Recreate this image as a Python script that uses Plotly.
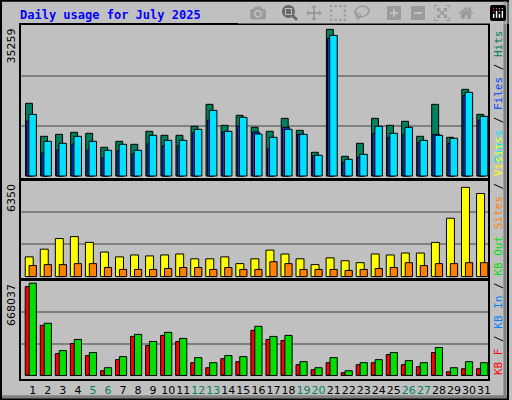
import plotly.graph_objects as go

days = list(range(1, 32))
weekend = [5, 6, 12, 13, 19, 20, 26, 27]

hits = [17090, 9330, 9800, 10270, 10040, 6750, 8160, 7450, 10510, 9570, 9570, 11680, 16850, 11920, 14270,
        11450, 10510, 13560, 10740, 5570, 34480, 4630, 7690, 13560, 11920, 12860, 9330, 16850, 9100, 20380, 14500]
files = [12930, 5410, 6110, 7520, 6110, 4230, 5880, 5170, 7520, 7050, 7050, 10110, 13160, 10340, 11750,
         10340, 6350, 11450, 9800, 4770, 32370, 3220, 4400, 10040, 9100, 9800, 7920, 9800, 7690, 18970, 13090]
pages = [14500, 8160, 7690, 9330, 8160, 6040, 7450, 6040, 9570, 8390, 8390, 10980, 15440, 10510, 13800,
         9870, 9100, 10980, 9800, 4870, 33070, 3930, 5100, 11680, 10040, 11450, 8390, 9570, 8860, 19670, 14030]
visits = [1295, 1803, 2502, 2629, 2248, 1613, 1295, 1422, 1359, 1422, 1486, 1168, 1168, 1295, 851,
          1168, 1740, 1486, 1168, 787, 1232, 1041, 914, 1486, 1422, 1549, 1549, 2248, 3835, 5867, 5461]
sites = [724, 787, 787, 851, 851, 597, 470, 470, 470, 533, 597, 597, 470, 597, 470,
         470, 978, 851, 470, 470, 470, 406, 470, 533, 597, 914, 724, 851, 851, 914, 914]
kb_f = [628000, 354700, 154900, 226200, 140600, 33500, 112000, 276200, 212000, 283300, 240500, 90600, 55000, 119200, 97800,
        319000, 254800, 247700, 76400, 40700, 90600, 19300, 76400, 90600, 147700, 76400, 62100, 162000, 26400, 47800, 47800]
kb_in = [4000, 2000, 2000, 2000, 2000, 1000, 1500, 2000, 2000, 2000, 2000, 4000, 4000, 4000, 4000,
         2000, 2000, 3000, 3000, 2000, 4000, 1000, 2000, 3000, 3000, 3000, 3000, 3000, 1500, 3000, 3000]
kb_out = [652300, 369000, 176300, 254800, 162000, 55000, 133500, 290500, 240500, 304800, 261900, 126300, 90600, 140600, 133500,
          347600, 276200, 283300, 97800, 55000, 126300, 33500, 90600, 112000, 162000, 104900, 90600, 197700, 55000, 97800, 90600]
max_hits, max_visits, max_kb = 35259, 6350, 668037

W, H = 512, 400
GREEN = "#00805C"
fig = go.Figure()

def bar(y, color, axis, off, wid):
    fig.add_trace(go.Bar(x=days, y=y, offset=off, width=wid, marker_color=color,
                         marker_line=dict(color="black", width=1),
                         xaxis="x" if axis == 1 else f"x{axis}", yaxis="y" if axis == 1 else f"y{axis}",
                         showlegend=False, hoverinfo="y"))

bar(hits, GREEN, 1, -0.48, 0.46)
bar(files, "#0040FF", 1, -0.40, 0.46)
bar(pages, "#00E0FF", 1, -0.26, 0.5)
bar(visits, "#FFFF00", 2, -0.5, 0.53)
bar(sites, "#FF8000", 2, -0.24, 0.48)
bar(kb_f, "#FF0000", 3, -0.5, 0.5)
bar(kb_in, "#0080FF", 3, -0.4, 0.2)
bar(kb_out, "#00E000", 3, -0.24, 0.48)

def py(px):
    return 1 - px / H

xdom = [20.7 / W, 490.7 / W]
xr = [0.19, 31.25]
ticktext = [f'<span style="color:{GREEN}">{d}</span>' if d in weekend else str(d) for d in days]
panels = [(25, 179, max_hits, -0.02, 1.007), (180, 279, max_visits, -0.025, 1.0), (280, 379, max_kb, -0.037, 1.01)]
for i, (t, b, m, lo, hi) in enumerate(panels, start=1):
    sx = "" if i == 1 else str(i)
    fig.layout[f"xaxis{sx}"] = dict(domain=xdom, range=xr, anchor=f"y{sx}", showgrid=False, zeroline=False,
                                    showline=True, mirror=True, linecolor="black", linewidth=2,
                                    tickvals=days if i == 3 else [], ticktext=ticktext if i == 3 else None,
                                    ticks="", tickangle=0, ticklen=0,
                                    tickfont=dict(family="DejaVu Sans", size=11, color="black"),
                                    showticklabels=(i == 3))
    fig.layout[f"yaxis{sx}"] = dict(domain=[py(b), py(t)], range=[lo * m, hi * m], anchor=f"x{sx}",
                                    tickvals=[m / 3, 2 * m / 3], showticklabels=False, gridcolor="#808080",
                                    gridwidth=1.5, zeroline=False, showline=True, mirror=True,
                                    linecolor="black", linewidth=2)
    fig.add_annotation(x=xdom[0], y=py(t + 2), xref="paper", yref="paper", text=str(m), textangle=-90,
                       showarrow=False, xanchor="right", yanchor="top", xshift=-1,
                       font=dict(family="DejaVu Sans", size=11, color="black"))

sep = '<span style="color:black">/</span>'
top_leg = (f'<span style="color:#00E0FF">Pages</span> {sep} <span style="color:#0040FF">Files</span> '
           f'{sep} <span style="color:{GREEN}">Hits</span>')
low_leg = (f'<span style="color:#FF0000">KB F</span> {sep} <span style="color:#0080FF">KB In</span> {sep} '
           f'<span style="color:#00E000">KB Out</span> <span style="color:#FF8000">Sites</span> {sep} '
           f'<span style="color:#FFFF00">Visits</span>')
fig.add_annotation(x=493 / W, y=py(28), xref="paper", yref="paper", text=top_leg, textangle=-90,
                   showarrow=False, xanchor="left", yanchor="top",
                   font=dict(family="DejaVu Sans Mono", size=11))
fig.add_annotation(x=493 / W, y=py(377), xref="paper", yref="paper", text=low_leg, textangle=-90,
                   showarrow=False, xanchor="left", yanchor="bottom",
                   font=dict(family="DejaVu Sans Mono", size=11))

fig.add_annotation(x=18 / W, y=py(6), xref="paper", yref="paper", text="<b>Daily usage for July 2025</b>",
                   showarrow=False, xanchor="left", yanchor="top",
                   font=dict(family="DejaVu Sans Mono", size=12, color="#0000FF"))

fig.add_shape(type="rect", xref="paper", yref="paper", x0=0.002, x1=0.998, y0=0.002, y1=0.998,
              line=dict(color="black", width=2))
fig.add_shape(type="line", xref="paper", yref="paper", x0=0.004, x1=0.996, y0=0.008, y1=0.008,
              line=dict(color="#808080", width=3))
fig.add_shape(type="line", xref="paper", yref="paper", x0=0.992, x1=0.992, y0=0.008, y1=0.996,
              line=dict(color="#808080", width=3))

fig.update_layout(width=W, height=H, margin=dict(l=0, r=0, t=0, b=0), barmode="overlay",
                  paper_bgcolor="#C0C0C0", plot_bgcolor="#C0C0C0")
fig.write_html("out.html", post_script="document.body.style.margin='0';")
